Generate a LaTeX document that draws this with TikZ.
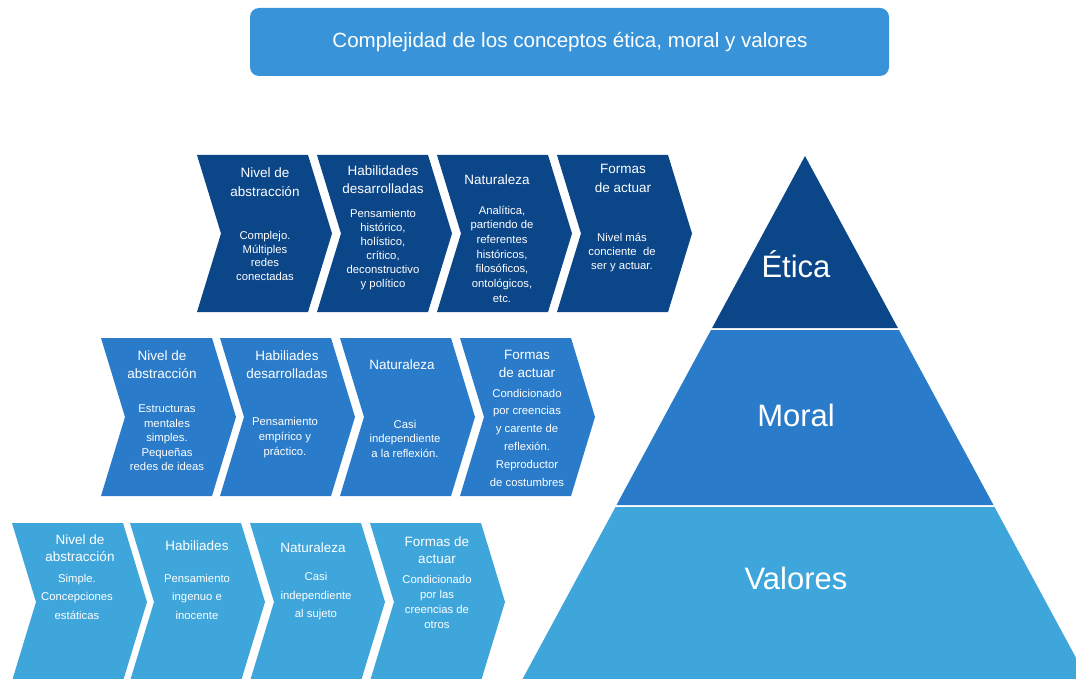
\documentclass[tikz,border=0pt]{standalone}
\usepackage{fontspec}
\setmainfont{Liberation Sans}
\definecolor{cdark}{HTML}{0B4689}
\definecolor{cmid}{HTML}{2A7BCA}
\definecolor{clight}{HTML}{3FA6DC}
\definecolor{ctitle}{HTML}{3993D9}
\newcommand\mychev[4]{%
  \fill[#4] (#1,#2) -- (#1+111,#2) -- (#1+135,{(#2+#3)/2}) -- (#1+111,#3) -- (#1,#3) -- (#1+24,{(#2+#3)/2}) -- cycle;}
\tikzset{
  hd/.style={text=white, align=center, inner sep=0pt, font=\fontsize{13.5}{18}\selectfont},
  bd/.style={text=white, align=center, inner sep=0pt, font=\fontsize{11.3}{#1}\selectfont},
  bd/.default=14,
  tier/.style={text=white, inner sep=0pt, font=\fontsize{31}{36}\selectfont},
}
\begin{document}
\begin{tikzpicture}[x=1pt,y=-1pt]
\clip (0,0) rectangle (1076,679);
\fill[white] (0,0) rectangle (1076,679);
% title
\fill[ctitle, rounded corners=9pt] (250,8) rectangle (889,76);
\node[text=white, inner sep=0pt, font=\fontsize{20.6}{24}\selectfont] (title) at (570,42) {Complejidad de los conceptos ética, moral y valores};
% row 1
\mychev{197}{155}{312}{cdark}
\mychev{317}{155}{312}{cdark}
\mychev{437}{155}{312}{cdark}
\mychev{557}{155}{312}{cdark}
\node[hd, font=\fontsize{13.5}{19}\selectfont] (a1h) at (265,182.5) {Nivel de\\abstracción};
\node[bd=13.5] (a1b) at (265,256) {Complejo.\\Múltiples\\redes\\conectadas};
\node[hd] (a2h) at (383,180) {Habilidades\\desarrolladas};
\node[bd=14] (a2b) at (383,250) {Pensamiento\\histórico,\\holístico,\\crítico,\\deconstructivo\\y político};
\node[hd] (a3h) at (497,180) {Naturaleza};
\node[bd=14.7] (a3b) at (502,254) {Analítica,\\partiendo de\\referentes\\históricos,\\filosóficos,\\ontológicos,\\etc.};
\node[hd, font=\fontsize{13.5}{19}\selectfont] (a4h) at (623,178.5) {Formas\\de actuar};
\node[bd=14] (a4b) at (622,253) {Nivel más\\conciente\ \ de\\ser y actuar.};
% row 2
\mychev{101}{338}{496}{cmid}
\mychev{220}{338}{496}{cmid}
\mychev{340}{338}{496}{cmid}
\mychev{460}{338}{496}{cmid}
\node[hd, font=\fontsize{13.5}{17.5}\selectfont] (b1h) at (162,364.5) {Nivel de\\abstracción};
\node[bd=14.5] (b1b) at (167,438) {Estructuras\\mentales\\simples.\\Pequeñas\\redes de ideas};
\node[hd] (b2h) at (287,365) {Habiliades\\desarrolladas};
\node[bd=15] (b2b) at (285,438) {Pensamiento\\empírico y\\práctico.};
\node[hd] (b3h) at (402,365) {Naturaleza};
\node[bd=14.5] (b3b) at (405,438.5) {Casi\\independiente\\a la reflexión.};
\node[hd] (b4h) at (527,364) {Formas\\de actuar};
\node[bd=17.8] (b4b) at (527,437.5) {Condicionado\\por creencias\\y carente de\\reflexión.\\Reproductor\\de costumbres};
% row 3
\mychev{12}{523}{681}{clight}
\mychev{130}{523}{681}{clight}
\mychev{250}{523}{681}{clight}
\mychev{370}{523}{681}{clight}
\node[hd, font=\fontsize{13.5}{17}\selectfont] (c1h) at (80,548.5) {Nivel de\\abstracción};
\node[bd=18.5] (c1b) at (77,596.5) {Simple.\\Concepciones\\estáticas};
\node[hd] (c2h) at (197,546) {Habiliades};
\node[bd=18.5] (c2b) at (197,596.5) {Pensamiento\\ingenuo e\\inocente};
\node[hd] (c3h) at (313,548) {Naturaleza};
\node[bd=18.5] (c3b) at (316,596.5) {Casi\\independiente\\al sujeto};
\node[hd, font=\fontsize{13.5}{17}\selectfont] (c4h) at (437,550.5) {Formas de\\actuar};
\node[bd=15.3] (c4b) at (437,602) {Condicionado\\por las\\creencias de\\otros};
% pyramid
\fill[cdark] (805,156) -- (897.9,328) -- (712.1,328) -- cycle;
\fill[cmid] (711,330) -- (899,330) -- (993.5,505) -- (616.5,505) -- cycle;
\fill[clight] (615.5,507) -- (994.5,507) -- (1093.4,690) -- (516.6,690) -- cycle;
\node[tier] (etica) at (796,264) {Ética};
\node[tier] (moral) at (796,415) {Moral};
\node[tier] (valores) at (796,578) {Valores};
\end{tikzpicture}
\end{document}
